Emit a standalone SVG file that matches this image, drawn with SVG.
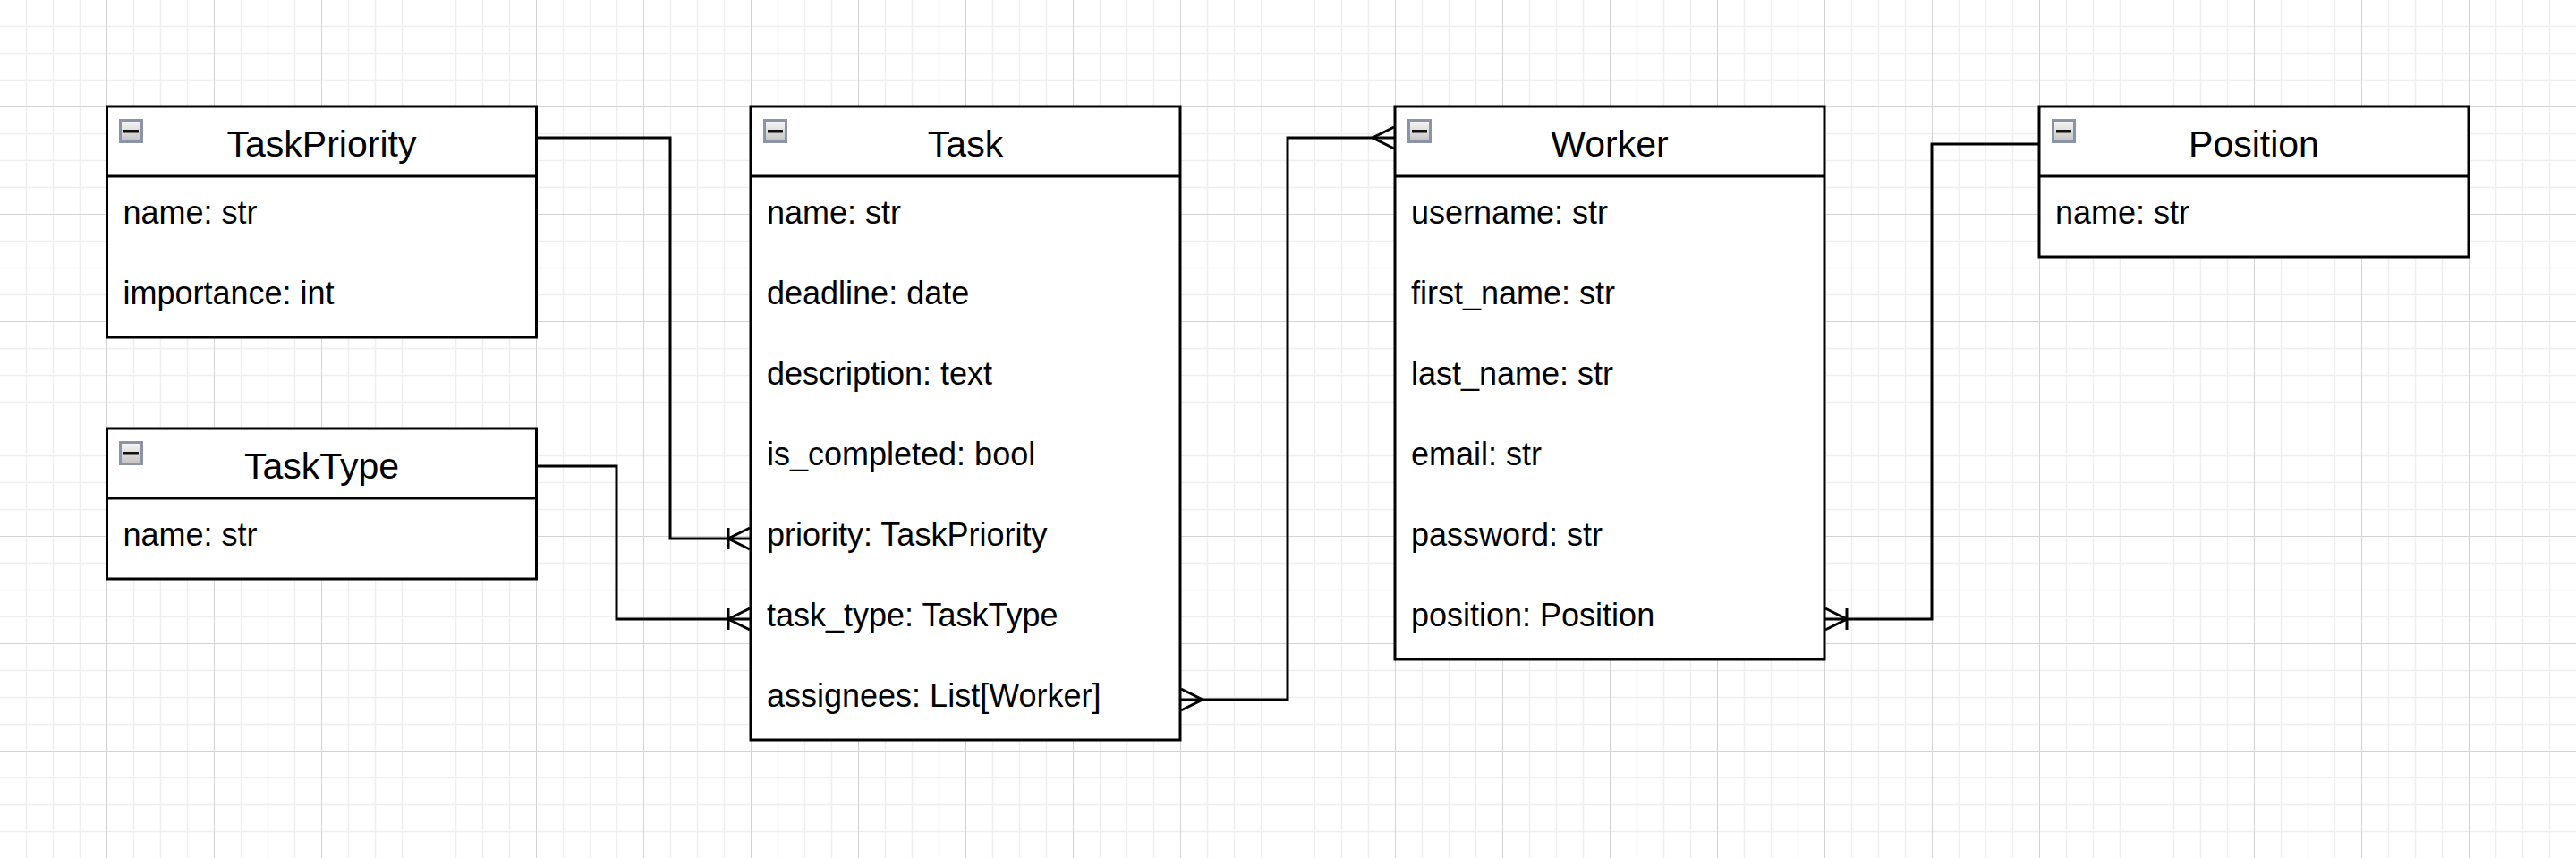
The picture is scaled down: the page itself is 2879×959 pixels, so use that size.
<svg xmlns="http://www.w3.org/2000/svg" width="2879" height="959" viewBox="0 0 2879 959">
<style>
.box{fill:#ffffff;stroke:#000000;stroke-width:3}
.div{stroke:#000000;stroke-width:3}
.title{font-family:"Liberation Sans",Arial,Helvetica,sans-serif;font-size:41px;fill:#000000;text-anchor:middle}
.attr{font-family:"Liberation Sans",Arial,Helvetica,sans-serif;font-size:36px;fill:#000000}
.edge{fill:none;stroke:#000000;stroke-width:3}
.mk{fill:none;stroke:#000000;stroke-width:3}
</style>
<defs>
<pattern id="grid" patternUnits="userSpaceOnUse" x="0" y="0" width="120" height="120">
<path d="M29.5,0V120M59.5,0V120M89.5,0V120M0,29.5H120M0,59.5H120M0,89.5H120" stroke="#efefef" stroke-width="1.5" fill="none"/>
<path d="M119.5,0V120M0,119.5H120" stroke="#d3d3d3" stroke-width="1" fill="none"/>
</pattern>
<linearGradient id="icoGrad" x1="0" y1="0" x2="0" y2="1">
<stop offset="0" stop-color="#f8f8f8"/>
<stop offset="1" stop-color="#c2c2c2"/>
</linearGradient>
<g id="collapse">
<rect x="1.5" y="1.5" width="24" height="24" fill="url(#icoGrad)" stroke="#8b93a6" stroke-width="3"/>
<rect x="5" y="12" width="17" height="3.5" fill="#111111"/>
</g>
<marker id="many" markerUnits="userSpaceOnUse" viewBox="-30 -15 32 30" markerWidth="32" markerHeight="30" refX="0" refY="0" orient="auto-start-reverse" overflow="visible">
<path class="mk" d="M0,-12L-24,0L0,12"/>
</marker>
<marker id="oneMany" markerUnits="userSpaceOnUse" viewBox="-30 -15 32 30" markerWidth="32" markerHeight="30" refX="0" refY="0" orient="auto-start-reverse" overflow="visible">
<path class="mk" d="M0,-12L-24,0L0,12M-24,-12V12"/>
</marker>
</defs>
<rect x="0" y="0" width="2879" height="959" fill="#ffffff"/>
<rect x="0" y="0" width="2879" height="959" fill="url(#grid)"/>

<g id="connectors">
<path id="e-priority" class="edge" d="M599,154H749V602H838" marker-end="url(#oneMany)"/>
<path id="e-tasktype" class="edge" d="M599,521H689V692H838" marker-end="url(#oneMany)"/>
<path id="e-assignees" class="edge" d="M1320,782H1439V154H1558" marker-start="url(#many)" marker-end="url(#many)"/>
<path id="e-position" class="edge" d="M2040,692H2159V161H2279" marker-start="url(#oneMany)"/>
</g>

<g id="TaskPriority">
<rect class="box" x="119.5" y="119" width="480" height="258"/>
<line class="div" x1="119.5" y1="197" x2="599.5" y2="197"/>
<use href="#collapse" x="133" y="133"/>
<text class="title" x="359.5" y="175">TaskPriority</text>
<text class="attr" x="137.5" y="250">name: str</text>
<text class="attr" x="137.5" y="340">importance: int</text>
</g>

<g id="TaskType">
<rect class="box" x="119.5" y="479" width="480" height="168"/>
<line class="div" x1="119.5" y1="557" x2="599.5" y2="557"/>
<use href="#collapse" x="133" y="493"/>
<text class="title" x="359.5" y="535">TaskType</text>
<text class="attr" x="137.5" y="610">name: str</text>
</g>

<g id="Task">
<rect class="box" x="839" y="119" width="480" height="708"/>
<line class="div" x1="839" y1="197" x2="1319" y2="197"/>
<use href="#collapse" x="853" y="133"/>
<text class="title" x="1079" y="175">Task</text>
<text class="attr" x="857" y="250">name: str</text>
<text class="attr" x="857" y="340">deadline: date</text>
<text class="attr" x="857" y="430">description: text</text>
<text class="attr" x="857" y="520">is_completed: bool</text>
<text class="attr" x="857" y="610">priority: TaskPriority</text>
<text class="attr" x="857" y="700">task_type: TaskType</text>
<text class="attr" x="857" y="790">assignees: List[Worker]</text>
</g>

<g id="Worker">
<rect class="box" x="1559" y="119" width="480" height="618"/>
<line class="div" x1="1559" y1="197" x2="2039" y2="197"/>
<use href="#collapse" x="1573" y="133"/>
<text class="title" x="1799" y="175">Worker</text>
<text class="attr" x="1577" y="250">username: str</text>
<text class="attr" x="1577" y="340">first_name: str</text>
<text class="attr" x="1577" y="430">last_name: str</text>
<text class="attr" x="1577" y="520">email: str</text>
<text class="attr" x="1577" y="610">password: str</text>
<text class="attr" x="1577" y="700">position: Position</text>
</g>

<g id="Position">
<rect class="box" x="2279" y="119" width="480" height="168"/>
<line class="div" x1="2279" y1="197" x2="2759" y2="197"/>
<use href="#collapse" x="2293" y="133"/>
<text class="title" x="2519" y="175">Position</text>
<text class="attr" x="2297" y="250">name: str</text>
</g>
</svg>
